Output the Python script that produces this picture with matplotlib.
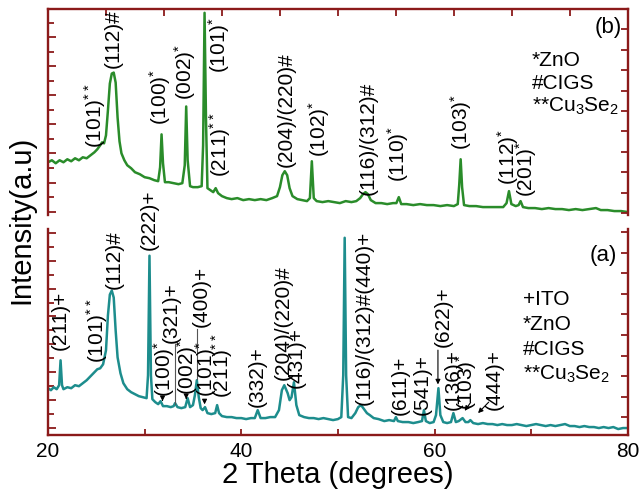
import numpy as np
import matplotlib.pyplot as plt
from matplotlib.ticker import FixedLocator

plt.rcParams['font.family'] = ['Liberation Sans', 'DejaVu Sans']
plt.rcParams['mathtext.fontset'] = 'custom'
plt.rcParams['mathtext.rm'] = 'Liberation Sans'
plt.rcParams['mathtext.default'] = 'regular'

# (b) pattern: 2theta (deg) / intensity (a.u.)
theta_b = [20.0, 20.4, 20.8, 21.2, 21.6, 22.0, 22.4, 22.8, 23.2, 23.6,
           24.0, 24.4, 24.8, 25.1, 25.4, 25.6, 25.8, 26.0, 26.2, 26.4,
           26.6, 26.8, 27.0, 27.2, 27.4, 27.6, 27.9, 28.2, 28.6, 29.0,
           29.5, 30.0, 30.5, 31.0, 31.4, 31.6, 31.75, 31.9, 32.1, 32.5,
           33.0, 33.5, 33.9, 34.15, 34.3, 34.45, 34.7, 35.0, 35.5, 35.9,
           36.05, 36.2, 36.35, 36.5, 36.8, 37.1, 37.35, 37.6, 38.0, 38.5,
           39.0, 39.6, 40.2, 40.8, 41.4, 42.0, 42.6, 43.2, 43.7, 44.0,
           44.25, 44.5, 44.75, 45.0, 45.3, 45.8, 46.3, 46.8, 47.1, 47.3,
           47.5, 47.8, 48.4, 49.0, 49.6, 50.2, 50.8, 51.4, 51.9, 52.3,
           52.6, 52.85, 53.1, 53.4, 53.9, 54.5, 55.1, 55.7, 56.05, 56.3,
           56.55, 57.1, 57.8, 58.5, 59.2, 59.9, 60.6, 61.3, 62.0, 62.4,
           62.55, 62.7, 62.85, 63.05, 63.6, 64.3, 65.0, 65.7, 66.4, 67.1,
           67.45, 67.7, 67.95, 68.4, 68.7, 68.9, 69.15, 69.7, 70.4, 71.1,
           71.8, 72.5, 73.2, 73.9, 74.6, 75.3, 76.0, 76.7, 77.2, 77.9,
           78.6, 79.3, 80.0]
counts_b = [53, 55, 52, 55, 53, 56, 54, 57, 55, 58,
            57, 60, 63, 66, 70, 73, 72, 80, 105, 132,
            142, 143, 133, 98, 74, 62, 55, 50, 47, 43,
            41, 38, 37, 35, 34, 48, 81, 52, 33, 33,
            32, 31, 32, 50, 109, 55, 29, 28, 28, 29,
            70, 203, 95, 27, 25, 23, 27, 22, 19, 17,
            16, 17, 15, 16, 15, 16, 15, 17, 19, 28,
            40, 44, 40, 27, 19, 16, 15, 14, 17, 54,
            17, 14, 13, 14, 13, 12, 14, 13, 14, 17,
            21, 23, 21, 15, 12, 12, 11, 12, 12, 18,
            11, 11, 10, 11, 10, 10, 9, 10, 9, 11,
            30, 56, 28, 10, 9, 9, 8, 8, 8, 8,
            12, 24, 11, 9, 10, 14, 8, 7, 7, 6,
            7, 6, 6, 5, 6, 5, 6, 7, 5, 5,
            4, 4, 3]

# (a) pattern
theta_a = [20.0, 20.3, 20.6, 20.9, 21.15, 21.3, 21.45, 21.6, 22.0, 22.4,
           22.8, 23.2, 23.6, 24.0, 24.4, 24.8, 25.1, 25.4, 25.7, 26.0,
           26.2, 26.4, 26.6, 26.8, 27.0, 27.2, 27.5, 27.8, 28.2, 28.6,
           29.0, 29.4, 29.8, 30.2, 30.35, 30.5, 30.65, 30.8, 31.1, 31.4,
           31.65, 31.9, 32.3, 32.7, 33.0, 33.15, 33.4, 33.8, 34.2, 34.45,
           34.7, 35.0, 35.2, 35.4, 35.6, 35.8, 36.0, 36.25, 36.5, 36.9,
           37.3, 37.5, 37.7, 38.0, 38.5, 39.0, 39.5, 40.0, 40.5, 41.0,
           41.4, 41.7, 42.0, 42.5, 43.0, 43.5, 43.9, 44.2, 44.45, 44.8,
           45.0, 45.2, 45.45, 45.7, 46.0, 46.5, 47.0, 47.5, 48.0, 48.5,
           49.0, 49.5, 50.0, 50.35, 50.55, 50.7, 50.85, 51.05, 51.4, 51.8,
           52.1, 52.4, 52.7, 53.0, 53.3, 53.7, 54.2, 54.8, 55.3, 55.8,
           56.0, 56.2, 56.7, 57.3, 57.8, 58.3, 58.7, 58.9, 59.1, 59.5,
           59.9, 60.15, 60.4, 60.6, 60.9, 61.3, 61.7, 61.95, 62.2, 62.5,
           62.9, 63.2, 63.5, 63.7, 64.0, 64.5, 65.0, 65.5, 66.0, 66.5,
           67.0, 67.5, 68.0, 68.5, 69.0, 69.5, 70.0, 70.5, 71.0, 71.5,
           72.0, 72.5, 73.0, 73.5, 74.0, 74.5, 75.0, 75.5, 76.0, 76.5,
           77.0, 77.5, 78.0, 78.5, 79.0, 79.5, 80.0]
counts_a = [47, 45, 48, 46, 50, 75, 50, 46, 48, 47,
            50, 49, 52, 55, 59, 63, 66, 67, 71, 85,
            120, 141, 145, 138, 105, 78, 62, 52, 46, 43,
            41, 39, 38, 37, 60, 180, 60, 36, 33, 31,
            34, 29, 29, 28, 29, 32, 28, 27, 28, 37,
            28, 30, 40, 55, 38, 27, 25, 28, 22, 21,
            22, 30, 22, 19, 18, 18, 17, 17, 16, 17,
            17, 25, 17, 17, 18, 18, 25, 45, 50, 42,
            35, 38, 53, 30, 20, 18, 17, 17, 16, 17,
            16, 15, 16, 18, 60, 198, 60, 18, 17, 22,
            28, 30, 26, 22, 20, 17, 16, 14, 15, 14,
            18, 14, 13, 13, 12, 13, 14, 25, 14, 12,
            13, 20, 47, 20, 13, 12, 13, 22, 13, 14,
            17, 13, 13, 15, 12, 11, 12, 11, 11, 10,
            11, 10, 10, 11, 10, 9, 10, 11, 10, 9,
            10, 9, 10, 11, 9, 9, 8, 9, 8, 8,
            7, 8, 7, 8, 6, 7, 7]

# peak labels: text, 2theta, intensity at bottom of the text
labels_b = [(r'(101)$^{**}$', 24.9, 67), (r'(112)#', 26.8, 148),
            (r'(100)$^{*}$', 31.6, 90), (r'(002)$^{*}$', 34.2, 115),
            (r'(101)$^{*}$', 37.7, 143), (r'(211)$^{**}$', 37.8, 38),
            (r'(204)/(220)#', 44.7, 48), (r'(102)$^{*}$', 48.0, 58),
            (r'(116)/(312)#', 53.1, 20), (r'(110)$^{*}$', 56.2, 33),
            (r'(103)$^{*}$', 62.7, 65), (r'(112)$^{*}$', 67.6, 30),
            (r'(201)$^{*}$', 69.5, 18)]
labels_a = [(r'(211)+', 21.3, 85), (r'(101)$^{**}$', 25.1, 72),
            (r'(112)#', 26.9, 147), (r'(222)+', 30.5, 186),
            (r'(100)$^{*}$', 32.0, 38), (r'(321)+', 32.8, 92),
            (r'(002)$^{*}$', 34.4, 40), (r'(400)+', 35.9, 108),
            (r'(101)$^{*}$', 36.4, 38), (r'(211)$^{**}$', 38.0, 37),
            (r'(332)+', 41.7, 28), (r'(204)/(220)#', 44.3, 55),
            (r'(431)+', 45.65, 47), (r'(116)/(312)#(440)+', 52.7, 30),
            (r'(611)+', 56.4, 20), (r'(541)+', 58.7, 20),
            (r'(622)+', 60.9, 88), (r'(136)+', 61.9, 25),
            (r'(103)$^{*}$', 63.3, 25), (r'(444)+', 66.2, 25)]
legend_b = ['*ZnO', '#CIGS', r'**Cu$_3$Se$_2$']
legend_a = ['+ITO', '*ZnO', '#CIGS', r'**Cu$_3$Se$_2$']

red = '#8b1a1a'
fig = plt.figure(figsize=(6.4, 4.91), dpi=100)
ax_b = fig.add_axes([0.075, 0.562, 0.906, 0.42])
ax_a = fig.add_axes([0.075, 0.114, 0.906, 0.42])

def frame(ax, left_ticks, right_ticks):
    ax.set_xlim(20, 80); ax.set_ylim(0, 207)
    for s in ax.spines.values():
        s.set_color(red); s.set_linewidth(1.7)
    ax.yaxis.set_major_locator(FixedLocator(left_ticks[::2]))
    ax.yaxis.set_minor_locator(FixedLocator(left_ticks[1::2]))
    ax.tick_params(axis='y', which='both', direction='in', color=red, width=1.3,
                   labelleft=False, right=False)
    ax.tick_params(axis='y', which='major', length=6)
    ax.tick_params(axis='y', which='minor', length=4)
    axr = ax.twinx()
    axr.set_ylim(0, 207)
    for s in axr.spines.values():
        s.set_visible(False)
    axr.set_yticks(right_ticks)
    axr.tick_params(axis='y', direction='in', color=red, width=1.3, length=5,
                    labelright=False)

frame(ax_b, np.arange(3.4, 207, 14.6), np.arange(2, 208, 20.5))
frame(ax_a, np.arange(7, 207, 14), np.arange(18, 208, 20.6))

ax_b.spines['bottom'].set_visible(False)
ax_b.xaxis.set_ticks_position('top')
ax_b.set_xticks(np.arange(26, 80, 6))
ax_b.tick_params(axis='x', direction='in', color=red, width=1.3, length=5,
                 labeltop=False, labelbottom=False)

ax_a.spines['top'].set_visible(False)
ax_a.set_xticks([20, 40, 60, 80])
ax_a.set_xticks([30, 50, 70], minor=True)
ax_a.tick_params(axis='x', which='both', direction='in', color=red, width=1.3,
                 length=4, top=False, labelsize=15, pad=5)
ax_a.set_xlabel('2 Theta (degrees)', fontsize=21, labelpad=0)

ax_b.plot(theta_b, counts_b, color='#2a8c2a', lw=1.8)
ax_a.plot(theta_a, counts_a, color='#1d8d8d', lw=1.8)

for ax, labels in ((ax_b, labels_b), (ax_a, labels_a)):
    for txt, x, y in labels:
        ax.text(x, y, txt, rotation=90, ha='center', va='bottom', fontsize=15,
                clip_on=False)

# pointer lines and arrows in (a)
ax_a.plot([33.1, 33.1], [90, 31], color='#555555', lw=0.8)
ax_a.plot([35.4, 35.4], [106, 56], color='#555555', lw=0.8)
arrow = dict(arrowstyle='-|>', color='black', lw=0.8, mutation_scale=7)
for x0, y0, x1, y1 in [(31.85, 38, 31.85, 34), (34.3, 40, 34.3, 36),
                       (36.2, 38, 36.2, 28), (60.35, 88, 60.35, 48),
                       (63.9, 35, 62.95, 22), (65.8, 35, 64.3, 20)]:
    ax_a.annotate('', xy=(x1, y1), xytext=(x0, y0), arrowprops=arrow)

for i, t in enumerate(legend_b):
    ax_b.text(0.834, 0.748 - i * 0.11, t, transform=ax_b.transAxes, fontsize=15,
              va='center', ha='left')
for i, t in enumerate(legend_a):
    ax_a.text(0.819, 0.655 - i * 0.121, t, transform=ax_a.transAxes, fontsize=15,
              va='center', ha='left')
ax_b.text(0.99, 0.908, '(b)', transform=ax_b.transAxes, fontsize=16,
          ha='right', va='center')
ax_a.text(0.981, 0.869, '(a)', transform=ax_a.transAxes, fontsize=16,
          ha='right', va='center')

fig.text(0.033, 0.552, 'Intensity(a.u)', rotation=90, fontsize=21,
         ha='center', va='center')

fig.savefig('out.png', dpi=100)
